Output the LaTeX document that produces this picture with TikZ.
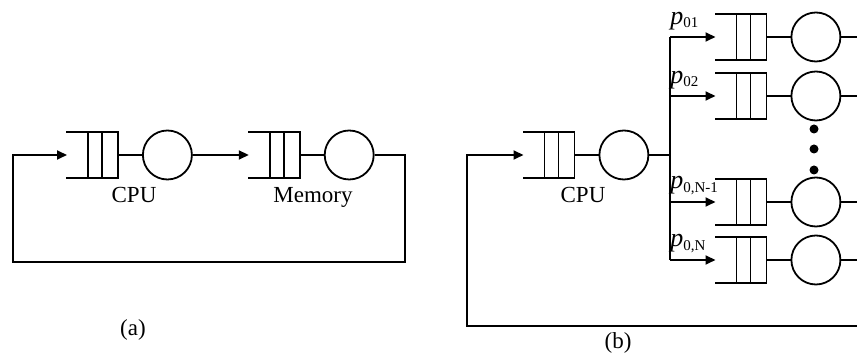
\documentclass[tikz,border=0pt]{standalone}
\usepackage{fontspec}
\setmainfont{Liberation Serif}
\usetikzlibrary{arrows.meta,positioning}
\tikzset{
  qline/.style ={draw, line width=0.9pt, -, line cap=rect},
  qbox/.style  ={rectangle, minimum width=25.5pt, minimum height=23pt,
                 inner sep=0pt, outer sep=0pt,
                 append after command={
                   (\tikzlastnode.north west) edge[qline] (\tikzlastnode.north east)
                   (\tikzlastnode.north east) edge[qline] (\tikzlastnode.south east)
                   (\tikzlastnode.south west) edge[qline] (\tikzlastnode.south east)
                   ([xshift=-8pt]\tikzlastnode.north east) edge[qline] ([xshift=-8pt]\tikzlastnode.south east)
                   ([xshift=-15pt]\tikzlastnode.north east) edge[qline] ([xshift=-15pt]\tikzlastnode.south east)}},
  srv/.style   ={circle, draw, line width=0.9pt, minimum size=24.5pt, inner sep=0pt},
  lbl/.style   ={font=\fontsize{11.5}{13}\selectfont, inner sep=0pt},
  plbl/.style  ={font=\fontsize{13}{15}\selectfont, inner sep=0pt, anchor=south west},
  dot/.style   ={circle, fill, minimum size=4.5pt, inner sep=0pt},
  link/.style  ={line width=0.9pt},
  flow/.style  ={-{Triangle[length=5pt,width=4.5pt]}, line width=0.9pt}
}
\newcommand{\psub}[1]{\textit{p}\textsubscript{\fontsize{7.5}{9}\selectfont #1}}
\begin{document}
\begin{tikzpicture}[x=0.5pt, y=-0.5pt]
  \useasboundingbox (0,0) rectangle (857,356);
  % (a) closed network
  \node[qbox]                    (cpuqa) at (92.5,155) {};
  \node[srv, right=12pt of cpuqa] (cpusa) {};
  \node[qbox, right=28pt of cpusa] (memq) {};
  \node[srv, right=12pt of memq]  (mems) {};
  \node[lbl, anchor=base] (cpula) at (134,203) {CPU};
  \node[lbl, anchor=base] (meml)  at (313,203) {Memory};
  \node[lbl] (capa) at (133,330) {(a)};
  \coordinate (ra) at (405,155);
  \coordinate (la) at (13,262);
  \draw[link] (cpuqa) -- (cpusa);
  \draw[flow] (cpusa) -- (memq);
  \draw[link] (memq) -- (mems);
  \draw[flow] (mems) -- (ra) |- (la) |- (cpuqa.west);

  % (b) CPU with N branches
  \node[qbox]                    (cpuqb) at (549,155) {};
  \node[srv, right=12pt of cpuqb] (cpusb) {};
  \node[lbl, anchor=base] (cpulb) at (583,203) {CPU};
  \node[lbl] (capb) at (618,343) {(b)};
  \coordinate (br) at (670,155);
  \draw[link] (cpuqb) -- (cpusb);
  \draw[link] (cpusb) -- (br);
  \foreach \n/\y/\p in {1/37/01, 2/96/02, 3/202/{0,N-1}, 4/260/{0,N}} {
    \node[qbox] (q\n) at (741,\y) {};
    \node[srv, right=12pt of q\n] (s\n) {};
    \coordinate (b\n) at (670,\y);
    \coordinate (e\n) at (857,\y);
    \node[plbl] (p\n) at ([yshift=3.5pt]b\n) {\psub{\p}};
    \draw[flow] (b\n) -- (q\n.west);
    \draw[link] (q\n) -- (s\n);
    \draw[link] (s\n) -- (e\n);
  }
  \draw[link] (b1) -- (b4);
  \foreach \y in {129,149,170}
    \node[dot] (d\y) at (814,\y) {};
  \coordinate (eb) at (857,326);
  \coordinate (lb) at (467,326);
  \draw[flow] (eb) -- (lb) |- (cpuqb.west);
\end{tikzpicture}
\end{document}
